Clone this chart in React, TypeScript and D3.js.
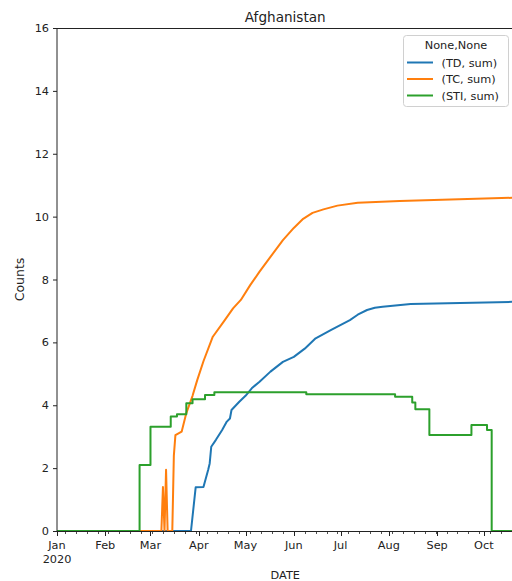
import { useEffect, useRef } from 'react'
import * as d3 from 'd3'

// daily sums (date, value)
const tdDates = ['2020-01-01', '2020-03-27', '2020-03-30', '2020-04-04', '2020-04-07', '2020-04-08', '2020-04-09', '2020-04-12', '2020-04-16', '2020-04-19', '2020-04-21', '2020-04-22', '2020-04-27', '2020-05-01', '2020-05-05', '2020-05-10', '2020-05-17', '2020-05-25', '2020-06-01', '2020-06-08', '2020-06-15', '2020-06-25', '2020-07-07', '2020-07-12', '2020-07-18', '2020-07-23', '2020-07-28', '2020-08-15', '2020-10-20']
const tdValues = [0, 0, 1.39, 1.4, 1.94, 2.15, 2.68, 2.9, 3.21, 3.48, 3.58, 3.85, 4.11, 4.3, 4.54, 4.75, 5.07, 5.38, 5.54, 5.8, 6.13, 6.4, 6.71, 6.88, 7.03, 7.1, 7.13, 7.22, 7.29]

const tcDates = ['2020-01-01', '2020-03-08', '2020-03-09', '2020-03-10', '2020-03-11', '2020-03-12', '2020-03-15', '2020-03-16', '2020-03-17', '2020-03-21', '2020-03-24', '2020-03-28', '2020-03-31', '2020-04-04', '2020-04-10', '2020-04-17', '2020-04-23', '2020-04-28', '2020-05-04', '2020-05-10', '2020-05-17', '2020-05-25', '2020-06-01', '2020-06-07', '2020-06-13', '2020-06-20', '2020-06-29', '2020-07-12', '2020-08-08', '2020-10-20']
const tcValues = [0, 0, 1.4, 0, 1.95, 0, 0, 2.4, 3.05, 3.16, 3.75, 4.3, 4.8, 5.4, 6.18, 6.66, 7.08, 7.35, 7.82, 8.25, 8.72, 9.25, 9.64, 9.93, 10.12, 10.23, 10.35, 10.44, 10.5, 10.6]

const stiDates = ['2020-01-01', '2020-02-23', '2020-03-01', '2020-03-14', '2020-03-18', '2020-03-24', '2020-03-28', '2020-04-05', '2020-04-11', '2020-06-09', '2020-08-05', '2020-08-16', '2020-08-18', '2020-08-27', '2020-09-23', '2020-10-03', '2020-10-06', '2020-10-20']
const stiValues = [0, 2.1, 3.32, 3.64, 3.71, 4.06, 4.19, 4.33, 4.41, 4.35, 4.27, 4.09, 3.87, 3.05, 3.37, 3.21, 0, 0]

const seriesNames = ['(TD, sum)', '(TC, sum)', '(STI, sum)']
const seriesColors = ['#1f77b4', '#ff7f0e', '#2ca02c']
const yTicks = [0, 2, 4, 6, 8, 10, 12, 14, 16]
const monthLabels = ['Jan', 'Feb', 'Mar', 'Apr', 'May', 'Jun', 'Jul', 'Aug', 'Sep', 'Oct']

const FONT = 'DejaVu Sans'

const App = () => {
  const chartRef = useRef<SVGSVGElement>(null)

  useEffect(() => {
    const width = 512
    const height = 581
    const margin = { top: 28, left: 57, bottom: 50 }
    const plotRight = 513.5
    const plotBottom = height - margin.bottom

    const parse = d3.timeParse('%Y-%m-%d')
    const series = [
      { dates: tdDates, values: tdValues, step: false },
      { dates: tcDates, values: tcValues, step: false },
      { dates: stiDates, values: stiValues, step: true },
    ].map((s, i) => ({
      name: seriesNames[i],
      color: seriesColors[i],
      step: s.step,
      points: s.dates.map((d, j) => ({ date: parse(d) as Date, value: s.values[j] })),
    }))

    const svg = d3.select(chartRef.current)
    svg.selectAll('*').remove()
    svg.attr('width', width).attr('height', height)
      .style('font-family', FONT)

    const x = d3.scaleTime()
      .domain([new Date(2020, 0, 1), new Date(2020, 9, 20)])
      .range([margin.left, plotRight])

    const y = d3.scaleLinear()
      .domain([0, 16])
      .range([plotBottom, margin.top])

    svg.append('rect')
      .attr('width', width).attr('height', height).attr('fill', '#fff')

    // lines
    series.forEach(s => {
      const line = d3.line<{ date: Date, value: number }>()
        .x(d => x(d.date))
        .y(d => y(d.value))
        .curve(s.step ? d3.curveStepAfter : d3.curveLinear)
      svg.append('path')
        .datum(s.points)
        .attr('d', line)
        .attr('fill', 'none')
        .attr('stroke', s.color)
        .attr('stroke-width', 2)
        .attr('stroke-linejoin', 'round')
    })

    // spines
    svg.append('line')
      .attr('x1', margin.left).attr('x2', margin.left)
      .attr('y1', margin.top).attr('y2', plotBottom)
      .attr('stroke', '#222').attr('stroke-width', 1)
    svg.append('line')
      .attr('x1', margin.left).attr('x2', plotRight)
      .attr('y1', margin.top + 0.5).attr('y2', margin.top + 0.5)
      .attr('stroke', '#222').attr('stroke-width', 1)
    svg.append('line')
      .attr('x1', margin.left).attr('x2', plotRight)
      .attr('y1', plotBottom + 0.5).attr('y2', plotBottom + 0.5)
      .attr('stroke', '#222').attr('stroke-width', 1)

    // y axis
    const yAxis = svg.append('g')
    yTicks.forEach(t => {
      yAxis.append('line')
        .attr('x1', margin.left - 4).attr('x2', margin.left)
        .attr('y1', y(t) + 0.5).attr('y2', y(t) + 0.5)
        .attr('stroke', '#222')
      yAxis.append('text')
        .attr('x', margin.left - 8).attr('y', y(t) + 4)
        .attr('text-anchor', 'end')
        .attr('font-size', 11.3)
        .attr('fill', '#222')
        .text(t)
    })

    // x axis: weekly minor ticks, monthly major ticks
    const xAxis = svg.append('g')
    d3.timeMonday.range(new Date(2020, 0, 1), new Date(2020, 9, 21)).forEach(d => {
      xAxis.append('line')
        .attr('x1', Math.round(x(d)) + 0.5).attr('x2', Math.round(x(d)) + 0.5)
        .attr('y1', plotBottom).attr('y2', plotBottom + 3)
        .attr('stroke', '#222').attr('stroke-width', 0.8)
    })
    monthLabels.forEach((m, i) => {
      const d = new Date(2020, i, 1)
      xAxis.append('line')
        .attr('x1', Math.round(x(d)) + 0.5).attr('x2', Math.round(x(d)) + 0.5)
        .attr('y1', plotBottom).attr('y2', plotBottom + 5)
        .attr('stroke', '#222')
      xAxis.append('text')
        .attr('x', x(d)).attr('y', plotBottom + 18)
        .attr('text-anchor', 'middle')
        .attr('font-size', 11.3)
        .attr('fill', '#222')
        .text(m)
    })
    xAxis.append('text')
      .attr('x', x(new Date(2020, 0, 1))).attr('y', plotBottom + 32)
      .attr('text-anchor', 'middle')
      .attr('font-size', 11.3)
      .attr('fill', '#222')
      .text('2020')

    // titles
    const cx = (margin.left + plotRight) / 2
    svg.append('text')
      .attr('x', cx).attr('y', 22)
      .attr('text-anchor', 'middle')
      .attr('font-size', 13.6)
      .attr('fill', '#222')
      .text('Afghanistan')
    svg.append('text')
      .attr('x', cx).attr('y', 579)
      .attr('text-anchor', 'middle')
      .attr('font-size', 11.3)
      .attr('fill', '#222')
      .text('DATE')
    svg.append('text')
      .attr('transform', `translate(24,${(margin.top + plotBottom) / 2}) rotate(-90)`)
      .attr('text-anchor', 'middle')
      .attr('font-size', 12.5)
      .attr('fill', '#222')
      .text('Counts')

    // legend
    const legend = svg.append('g')
    legend.append('rect')
      .attr('x', 403.5).attr('y', 35.5)
      .attr('width', 105).attr('height', 71)
      .attr('rx', 3)
      .attr('fill', '#fff').attr('fill-opacity', 0.8)
      .attr('stroke', '#d0d0d0')
    legend.append('text')
      .attr('x', 456).attr('y', 49)
      .attr('text-anchor', 'middle')
      .attr('font-size', 11.3)
      .attr('fill', '#222')
      .text('None,None')
    series.forEach((s, i) => {
      const ly = 62.5 + i * 16.5
      legend.append('line')
        .attr('x1', 407).attr('x2', 433)
        .attr('y1', ly).attr('y2', ly)
        .attr('stroke', s.color).attr('stroke-width', 2)
      legend.append('text')
        .attr('x', 441.5).attr('y', ly + 4)
        .attr('font-size', 11.3)
        .attr('fill', '#222')
        .text(s.name)
    })
  }, [])

  return <svg ref={chartRef} style={{ position: 'absolute', left: 0, top: 0, display: 'block' }}></svg>
}

export default App
